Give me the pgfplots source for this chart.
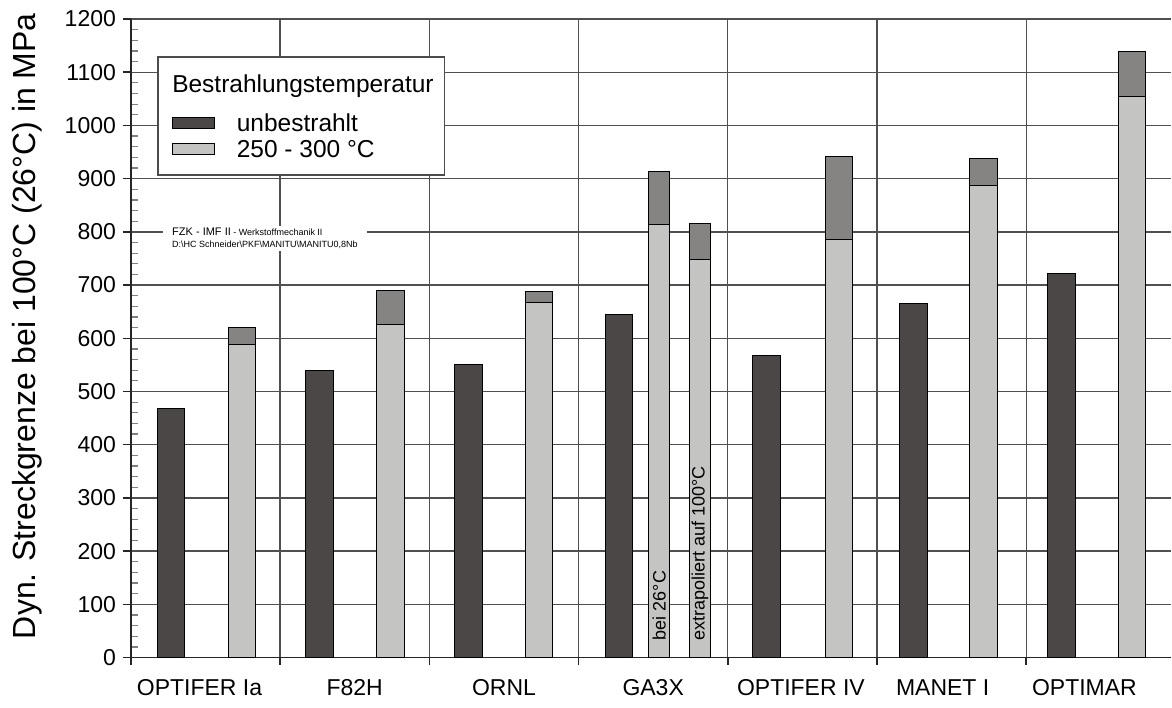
\documentclass[border=0pt]{standalone}
\usepackage{pgfplots}
\pgfplotsset{compat=1.18}
\usepackage{pgfplotstable}
\usepackage{fontspec}
\setmainfont{Liberation Sans}

\definecolor{unbestr}{HTML}{4B4746}
\definecolor{bestr}{HTML}{C4C4C2}
\definecolor{streu}{HTML}{868483}
\definecolor{gitter}{HTML}{505050}

% Dynamische Streckgrenze, unbestrahlt
\pgfplotstableread{
x     y
0.268 469
1.264 540
2.263 550
3.271 645
4.260 567
5.243 666
6.236 722
}\unbestrahlt

% bestrahlt (250 - 300 C): untere und obere Grenze
\pgfplotstableread{
x     unten oben
0.745 588   620
1.738 625   689
2.735 667   687
4.745 786   941
5.713 887   938
6.708 1055  1139
}\bestrahlt

% GA3X: bei 26 C und extrapoliert auf 100 C
\pgfplotstableread{
x     unten oben
3.540 813   913
3.813 748   816
}\gadreix

\begin{document}
\begin{tikzpicture}
\begin{axis}[
  scale only axis, width=520.5pt, height=319.5pt,
  xmin=0, xmax=6.972, ymin=0, ymax=1200,
  axis x line*=bottom, axis y line*=left,
  axis line style={line width=0.75pt, draw=black!85},
  ybar, bar shift=0pt, bar width=0.1855,
  ytick={0,100,...,1200}, minor y tick num=4,
  xtick={0.46,1.5,2.5,3.5,4.49,5.44,6.39},
  xticklabels={OPTIFER Ia, F82H, ORNL, GA3X, OPTIFER IV, MANET I, OPTIMAR},
  minor xtick={0,1,...,7},
  xtick align=outside, ytick align=outside,
  major tick length=4pt, minor tick length=3.5pt,
  major x tick style={draw=none},
  minor x tick style={line width=0.75pt, black!85},
  major y tick style={line width=0.75pt, black!85},
  minor y tick style={line width=0.6pt, gray, xshift=3.5pt},
  ymajorgrids, xminorgrids,
  major grid style={line width=0.7pt, gitter},
  minor grid style={line width=0.7pt, gitter},
  tick label style={font=\fontsize{11.5}{13}\selectfont},
  xticklabel style={yshift=-3.5pt},
  /pgf/number format/assume math mode=true,
  /pgf/number format/1000 sep={},
  ylabel={Dyn. Streckgrenze bei 100°C (26°C) in MPa},
  ylabel style={font=\fontsize{16}{19}\selectfont, at={(axis description cs:-0.1,0.519)}, anchor=center},
  legend style={at={(axis description cs:0.0394,0.8518)}, anchor=north west,
    draw=none, fill=none, inner sep=0pt, outer sep=0pt,
    row sep=1.15pt, column sep=11pt,
    font=\fontsize{12.25}{14}\selectfont,
    nodes={inner sep=0pt, text height=9pt, text depth=3pt}},
  legend cell align=left,
  legend image code/.code={\draw[#1, line width=0.5pt] (0pt,-1.3pt) rectangle (21pt,4.0pt);},
]
\addplot[fill=unbestr, draw=black, line width=0.5pt] table[x=x, y=y] {\unbestrahlt};
\addlegendentry{unbestrahlt}

% obere Grenze zuerst, darueber der Balken bis zur unteren Grenze
\addplot[fill=streu, draw=black, line width=0.5pt, forget plot] table[x=x, y=oben] {\bestrahlt};
\addplot[fill=streu, draw=black, line width=0.5pt, bar width=0.141, forget plot] table[x=x, y=oben] {\gadreix};

\addplot[fill=bestr, draw=black, line width=0.5pt] table[x=x, y=unten] {\bestrahlt};
\addlegendentry{250 - 300 °C}
\addplot[fill=bestr, draw=black, line width=0.5pt, bar width=0.141, forget plot] table[x=x, y=unten] {\gadreix};

\node[rotate=90, anchor=west, inner sep=0pt, font=\fontsize{9}{10}\selectfont] at (axis cs:3.540,32) {bei 26°C};
\node[rotate=90, anchor=west, inner sep=0pt, font=\fontsize{9}{10}\selectfont] at (axis cs:3.813,32) {extrapoliert auf 100°C};

\node[fill=white, anchor=west, inner xsep=4.5pt, inner ysep=1pt, align=left, font=\fontsize{4.5}{6}\selectfont]
  at (axis cs:0.214,787) {{\fontsize{5.5}{6}\selectfont FZK - IMF II} - Werkstoffmechanik II\\D:\textbackslash HC Schneider\textbackslash PKF\textbackslash MANITU\textbackslash MANITU0,8Nb};

% Rahmen und Titel der Legende
\draw[black!70, line width=0.75pt, fill=white] (axis description cs:0.0259,0.9405) rectangle (axis description cs:0.3016,0.7559);
\node[anchor=base west, inner sep=0pt, font=\fontsize{12.25}{14}\selectfont] at (axis description cs:0.0394,0.8842) {Bestrahlungstemperatur};
\end{axis}
\path ([xshift=-65.5pt,yshift=-25pt]current axis.south west) rectangle ([yshift=9.5pt]current axis.north east);
\end{tikzpicture}
\end{document}
